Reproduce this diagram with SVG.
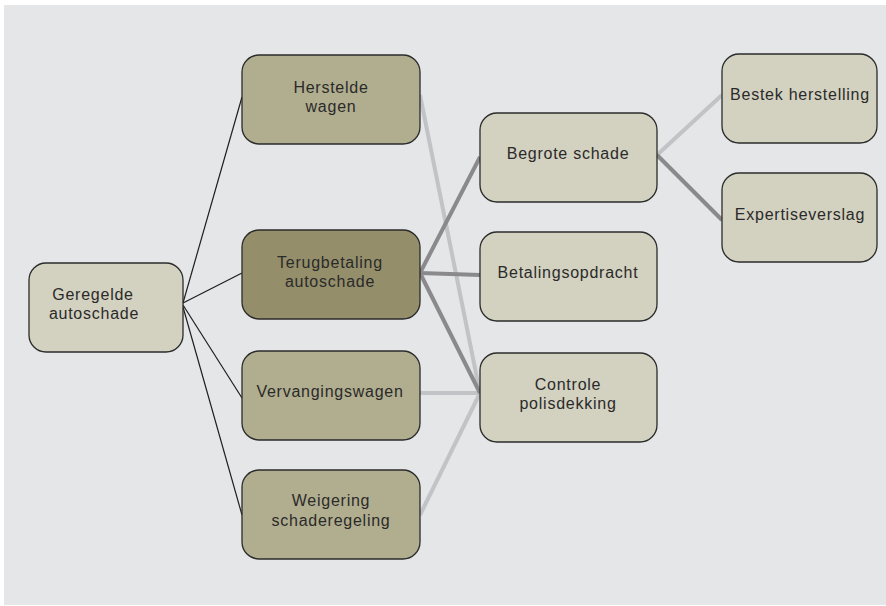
<svg xmlns="http://www.w3.org/2000/svg" width="886" height="606" viewBox="0 0 886 606">
<style>
.n rect{stroke:#2b2b2b;stroke-width:1.3}
.l1{fill:#d3d1c0}
.l2{fill:#b1ae8f}
.l3{fill:#948f6a}
text{font-family:"Liberation Sans",Arial,sans-serif;font-size:16px;letter-spacing:0.75px;fill:#2a2a2a;text-anchor:middle}
.k{stroke:#1e1e1e;stroke-width:1.2;fill:none}
.m{stroke:#8a8a8c;stroke-width:4;fill:none}
.g{stroke:#c2c3c6;stroke-width:4;fill:none}
</style>
<rect x="4" y="5" width="882" height="600" fill="#e5e6e8"/>
<g id="connectors">
<line class="k" x1="183" y1="303" x2="242" y2="97"/>
<line class="k" x1="183" y1="303" x2="242" y2="273"/>
<line class="k" x1="183" y1="305" x2="242" y2="398"/>
<line class="k" x1="183" y1="307" x2="242" y2="515"/>
<line class="g" x1="420" y1="95" x2="480" y2="393"/>
<line class="g" x1="420" y1="393" x2="480" y2="393"/>
<line class="g" x1="420" y1="515" x2="480" y2="393"/>
<line class="m" x1="420" y1="273" x2="480" y2="157"/>
<line class="m" x1="420" y1="273" x2="480" y2="275"/>
<line class="m" x1="420" y1="273" x2="480" y2="393"/>
<line class="g" x1="657" y1="155" x2="722" y2="95"/>
<line class="m" x1="657" y1="155" x2="722" y2="220"/>
</g>
<g id="geregelde" class="n"><rect class="l1" x="29" y="263" width="154" height="89" rx="17"/><text x="93" y="300">Geregelde</text><text x="94" y="319">autoschade</text></g>
<g id="herstelde" class="n"><rect class="l2" x="242" y="55" width="178" height="89" rx="17"/><text x="331" y="93">Herstelde</text><text x="331" y="112">wagen</text></g>
<g id="terugbetaling" class="n"><rect class="l3" x="242" y="230" width="178" height="89" rx="17"/><text x="330" y="268">Terugbetaling</text><text x="330" y="287">autoschade</text></g>
<g id="vervangingswagen" class="n"><rect class="l2" x="242" y="351" width="178" height="89" rx="17"/><text x="330" y="397">Vervangingswagen</text></g>
<g id="weigering" class="n"><rect class="l2" x="242" y="470" width="178" height="89" rx="17"/><text x="331" y="506">Weigering</text><text x="331" y="526">schaderegeling</text></g>
<g id="begrote" class="n"><rect class="l1" x="480" y="113" width="177" height="89" rx="17"/><text x="568" y="159">Begrote schade</text></g>
<g id="betalingsopdracht" class="n"><rect class="l1" x="480" y="232" width="177" height="89" rx="17"/><text x="568" y="278">Betalingsopdracht</text></g>
<g id="controle" class="n"><rect class="l1" x="480" y="353" width="177" height="89" rx="17"/><text x="568" y="390">Controle</text><text x="568" y="409">polisdekking</text></g>
<g id="bestek" class="n"><rect class="l1" x="722" y="54" width="155" height="89" rx="17"/><text x="800" y="100">Bestek herstelling</text></g>
<g id="expertise" class="n"><rect class="l1" x="722" y="173" width="155" height="89" rx="17"/><text x="800" y="220">Expertiseverslag</text></g>
</svg>
